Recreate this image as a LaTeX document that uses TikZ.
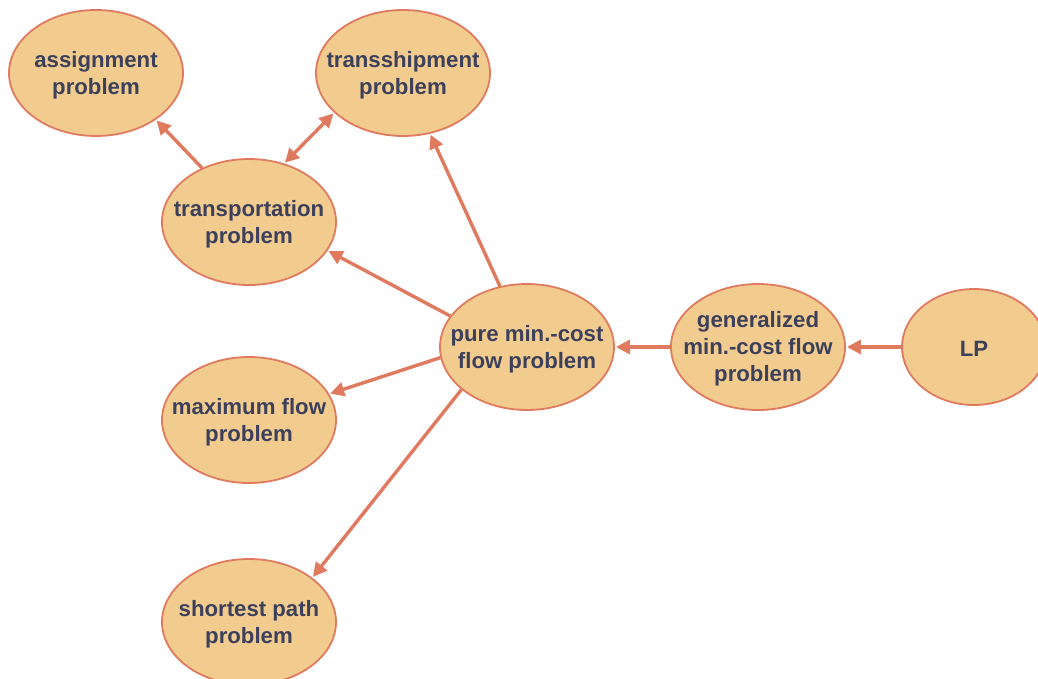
\documentclass[tikz,border=0pt]{standalone}
\usepackage{fontspec}
\setmainfont{Liberation Sans}
\usetikzlibrary{shapes.geometric,arrows.meta}
\definecolor{nodefill}{HTML}{F2CC8F}
\definecolor{nodeedge}{HTML}{E07A5F}
\definecolor{nodetext}{HTML}{3D405B}
\tikzset{
  prob/.style={ellipse, draw=nodeedge, line width=1.8pt, fill=nodefill,
    minimum width=174pt, minimum height=126pt, inner sep=0pt},
  probtext/.style={text=nodetext, align=center, inner sep=0pt, yshift=-2pt,
    font=\fontsize{22.2}{27}\selectfont\bfseries},
  tip/.tip={Triangle[length=14pt,width=14pt]},
  link/.style={draw=nodeedge, line width=3.4pt, -tip, shorten >=1pt},
  biglink/.style={link, tip-tip, shorten <=1pt}
}
\begin{document}
\begin{tikzpicture}[x=1pt,y=-1pt]
\useasboundingbox (0,0) rectangle (1038,679);
\node[prob] (asg) at (96,73) {};
\node[prob] (tsh) at (403,73) {};
\node[prob] (trp) at (249,222) {};
\node[prob] (pmc) at (527,347) {};
\node[prob] (mxf) at (249,420) {};
\node[prob] (shp) at (249,622) {};
\node[prob] (gmc) at (758,347) {};
\node[prob, minimum width=144pt, minimum height=116pt] (lp) at (974,347) {};

\node[probtext] at (asg) {assignment\\problem};
\node[probtext] at (tsh) {transshipment\\problem};
\node[probtext] at (trp) {transportation\\problem};
\node[probtext] at (pmc) {pure min.-cost\\flow problem};
\node[probtext] at (mxf) {maximum flow\\problem};
\node[probtext] at (shp) {shortest path\\problem};
\node[probtext] at (gmc) {generalized\\min.-cost flow\\problem};
\node[probtext] at (lp) {LP};

\draw[link] (lp) -- (gmc);
\draw[link] (gmc) -- (pmc);
\draw[link] (pmc.114) -- (tsh.-66);
\draw[link] (pmc.158) -- (trp.-20);
\draw[link] (pmc.-173) -- (mxf.18);
\draw[link] (pmc.-147) -- (shp.35);
\draw[link] (trp.131) -- (asg.-38);
\draw[biglink] (trp.59) -- (tsh.-150);
\end{tikzpicture}
\end{document}
